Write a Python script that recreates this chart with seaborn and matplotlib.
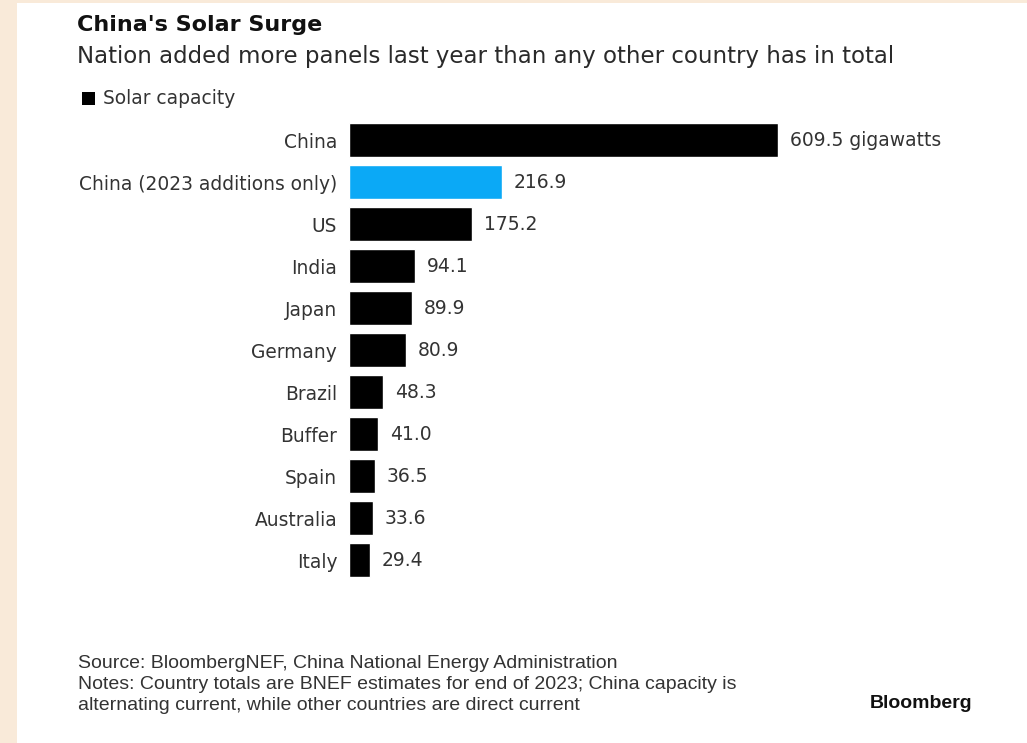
import matplotlib
matplotlib.use("Agg")
import matplotlib.pyplot as plt
import matplotlib.patches as mpatches
import seaborn as sns
import pandas as pd

categories = ["China", "China (2023 additions only)", "US", "India", "Japan", "Germany",
              "Brazil", "Buffer", "Spain", "Australia", "Italy"]
values = [609.5, 216.9, 175.2, 94.1, 89.9, 80.9, 48.3, 41.0, 36.5, 33.6, 29.4]
value_labels = ["609.5 gigawatts", "216.9", "175.2", "94.1", "89.9", "80.9",
                "48.3", "41.0", "36.5", "33.6", "29.4"]
bar_colors = ["#000000", "#0BA9F6"] + ["#000000"] * 9

title = "China's Solar Surge"
subtitle = "Nation added more panels last year than any other country has in total"
legend_label = "Solar capacity"
source = "Source: BloombergNEF, China National Energy Administration"
notes1 = "Notes: Country totals are BNEF estimates for end of 2023; China capacity is"
notes2 = "alternating current, while other countries are direct current"
brand = "Bloomberg"

sns.set_theme(style="white")
plt.rcParams['font.family'] = ['DejaVu Sans']

W, H = 1027, 743
fig = plt.figure(figsize=(W / 100, H / 100), dpi=100)
fig.patch.set_facecolor("#F9EAD9")
# white panel
fig.add_artist(mpatches.Rectangle((17 / W, 0), 1 - 17 / W, 1 - 3 / H,
                                  transform=fig.transFigure, facecolor="white",
                                  edgecolor="none", zorder=0))

xmax = 900
px_per = (778 - 349) / 609.5
ax_left = 349 / W
ax_w = xmax * px_per / W
ax_top = 119
ax_bot = 581
ax = fig.add_axes([ax_left, 1 - ax_bot / H, ax_w, (ax_bot - ax_top) / H])
ax.set_facecolor("none")

df = pd.DataFrame({"cat": categories, "val": values})
sns.barplot(data=df, x="val", y="cat", hue="cat", palette=bar_colors,
            legend=False, width=0.79, ax=ax, order=categories, saturation=1)
ax.set_xlim(0, xmax)
ax.set_ylim(len(categories) - 0.5, -0.5)
for s in ax.spines.values():
    s.set_visible(False)
ax.set_xticks([])
ax.set_xlabel("")
ax.set_ylabel("")
ax.tick_params(axis="y", length=0, pad=8.5, labelsize=13.4, labelcolor="#333333")

for i, (v, lab) in enumerate(zip(values, value_labels)):
    ax.annotate(lab, xy=(v, i), xytext=(8.6, 0), textcoords="offset points",
                va="center", ha="left", fontsize=13.5, color="#333333")

def ftext(x, y, s, **kw):
    fig.text(x / W, 1 - y / H, s, **kw)

ftext(77, 31, title, fontsize=16, fontweight="bold", va="baseline", color="#111111")
ftext(77, 63, subtitle, fontsize=16.5, va="baseline", color="#2a2a2a")
fig.add_artist(mpatches.Rectangle((82 / W, 1 - 105 / H), 13 / W, 13 / H,
                                  transform=fig.transFigure, facecolor="black",
                                  edgecolor="none"))
ftext(103, 104, legend_label, fontsize=13.4, va="baseline", color="#333333")

foot_family = ['Liberation Sans', 'DejaVu Sans']
ftext(78, 668, source, fontsize=14, va="baseline", color="#333333", family=foot_family)
ftext(78, 689, notes1, fontsize=14, va="baseline", color="#333333", family=foot_family)
ftext(78, 710, notes2, fontsize=14, va="baseline", color="#333333", family=foot_family)
ftext(972, 708, brand, fontsize=14, fontweight="bold", va="baseline", ha="right",
      color="#111111", family=foot_family)

fig.savefig("out.png", dpi=100, facecolor=fig.get_facecolor())
